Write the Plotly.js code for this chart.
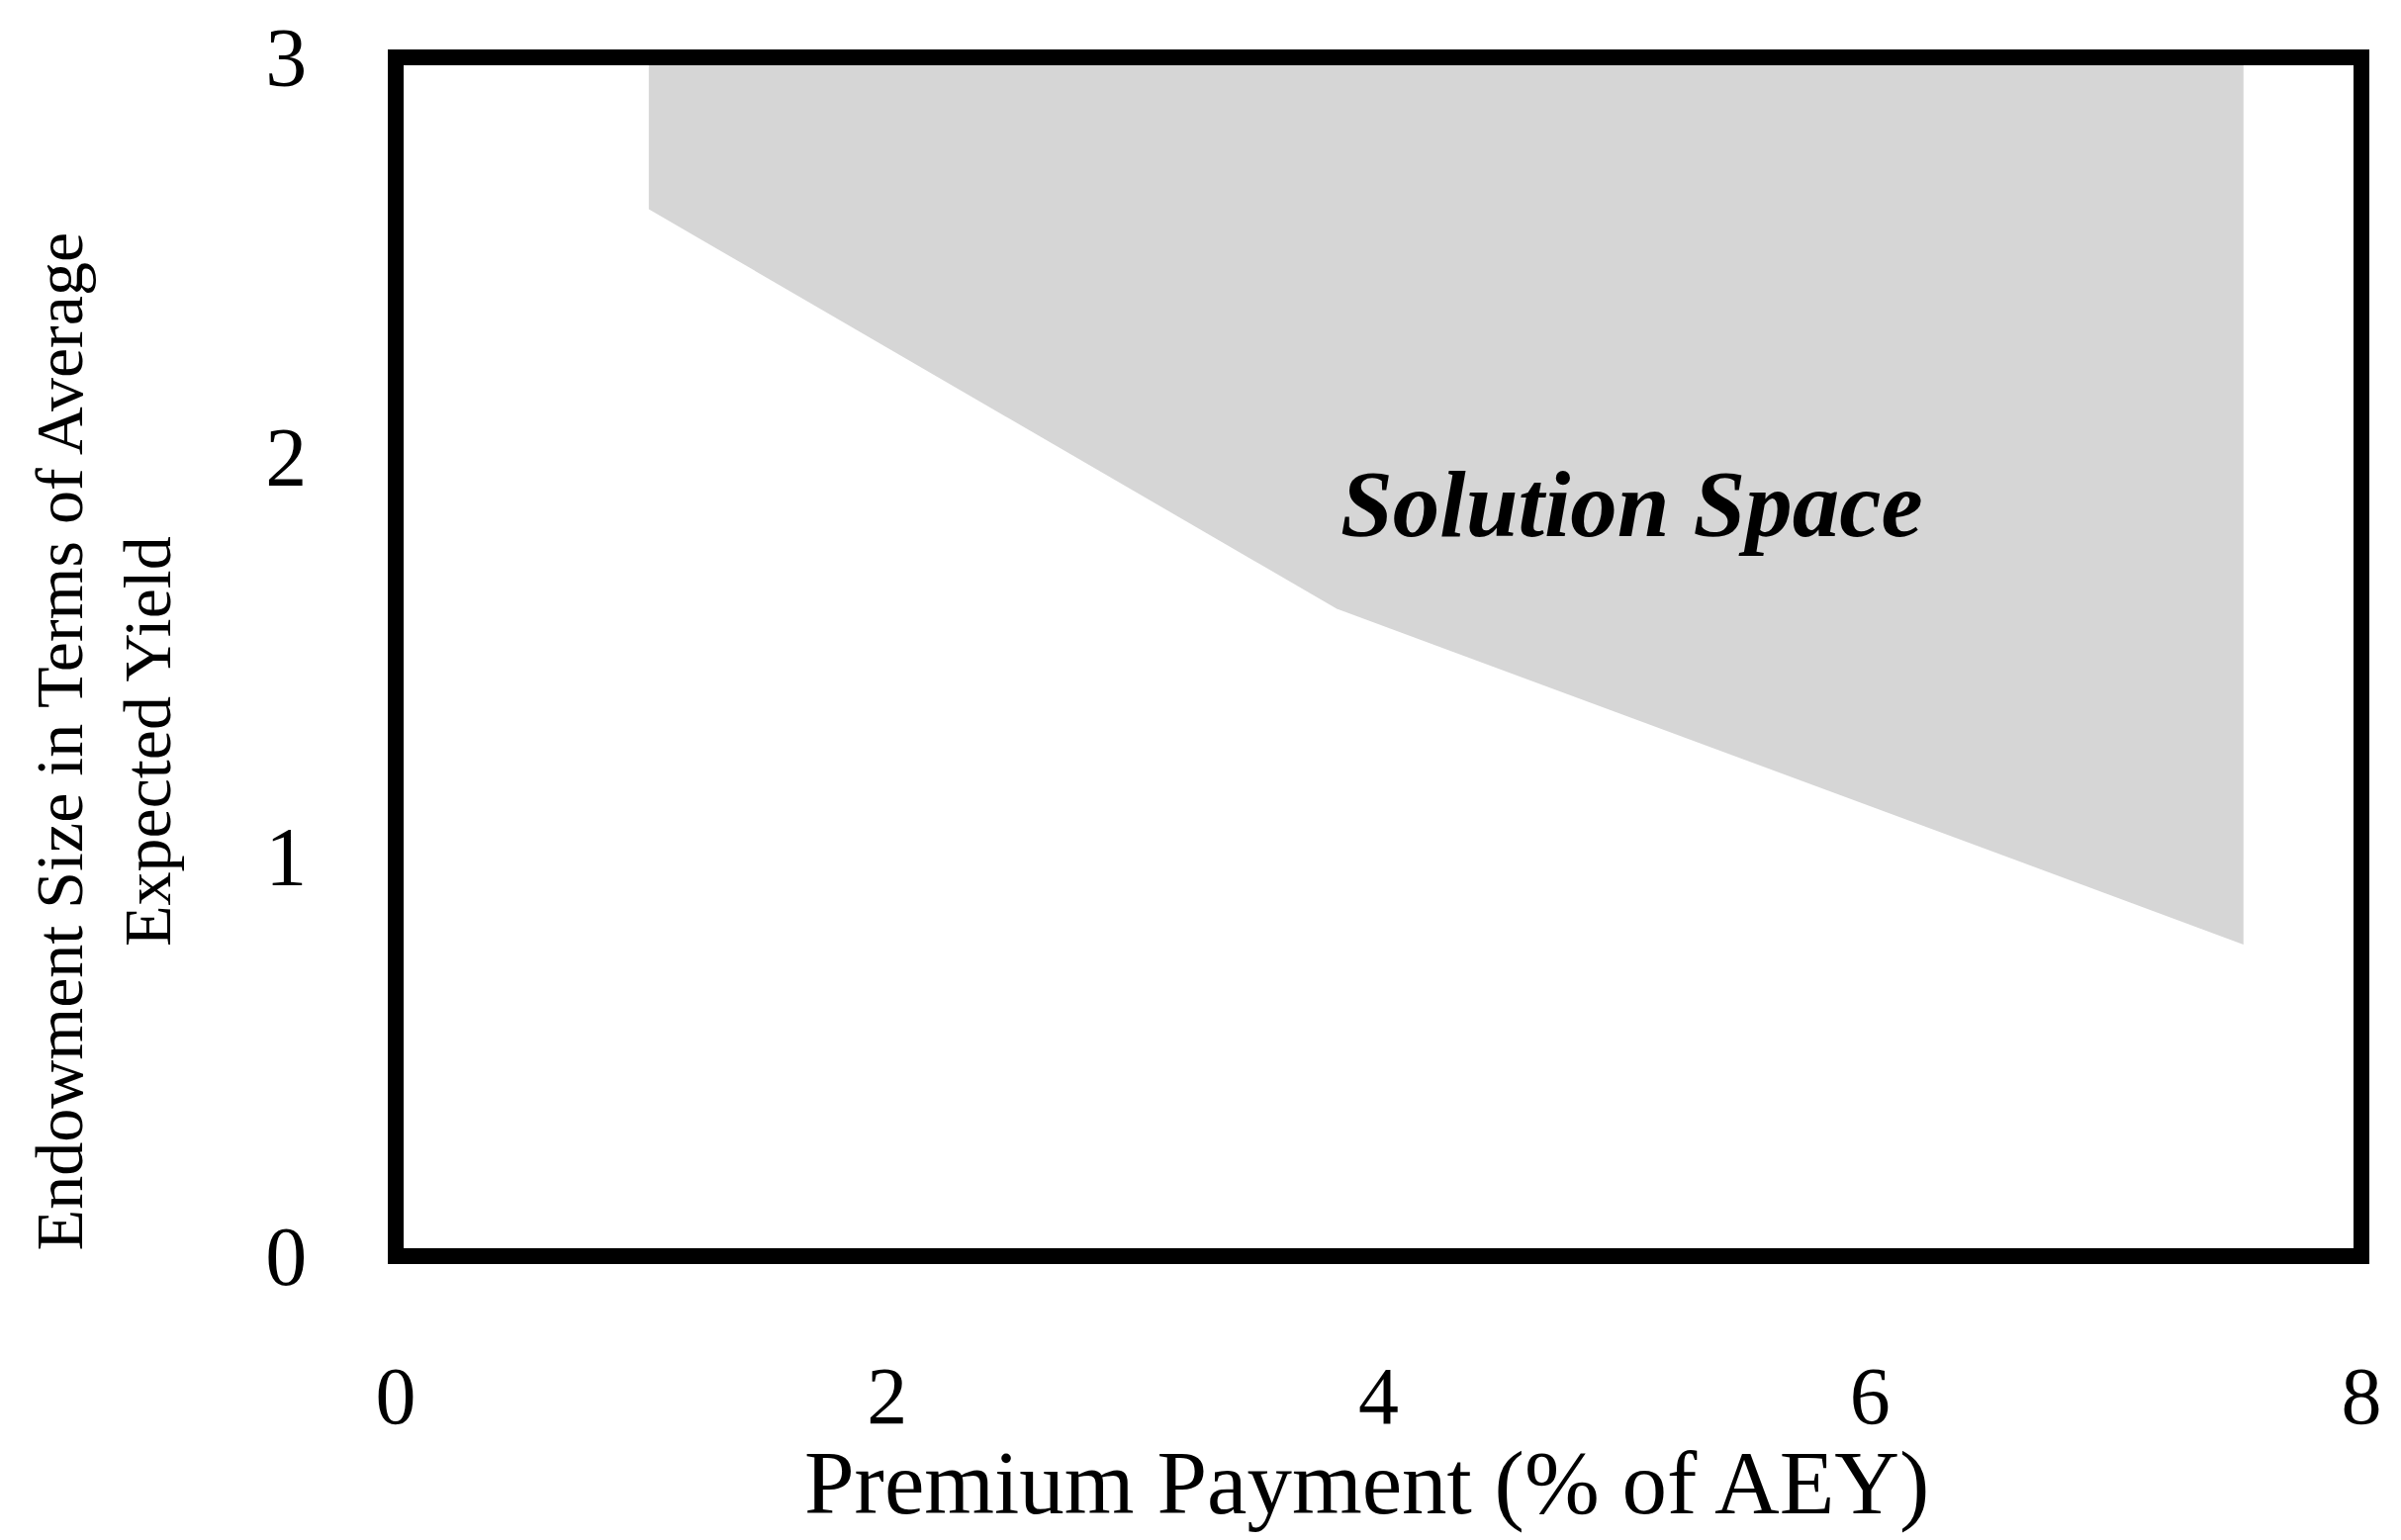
<!DOCTYPE html>
<html>
<head>
<meta charset="utf-8">
<script src="https://cdn.plot.ly/plotly-3.0.1.min.js"></script>
<style>html,body{margin:0;padding:0;background:#fff;}#chart{width:2427px;height:1557px;}</style>
</head>
<body>
<div id="chart"></div>
<script>
// Boundary of the solution space (premium % of AEY vs endowment size)
const boundaryX = [1.03, 1.03, 3.83, 7.52, 7.52];
const boundaryY = [3.0, 2.62, 1.62, 0.78, 3.0];
const xTicks = [0, 2, 4, 6, 8];
const yTicks = [0, 1, 2, 3];
const xTitle = "Premium Payment (% of AEY)";
const yTitleLines = ["Endowment Size in Terms of Average", "Expected Yield"];
const regionLabel = "Solution Space";

const serif = "Liberation Serif, DejaVu Serif, serif";

const trace = {
  x: boundaryX.concat([boundaryX[0]]),
  y: boundaryY.concat([boundaryY[0]]),
  type: "scatter",
  mode: "lines",
  fill: "toself",
  fillcolor: "#d6d6d6",
  line: {width: 0, color: "#d6d6d6"},
  hoverinfo: "skip",
  showlegend: false
};

const layout = {
  width: 2427,
  height: 1557,
  margin: {l: 400, r: 40, t: 58, b: 287, pad: 0},
  paper_bgcolor: "#ffffff",
  plot_bgcolor: "#ffffff",
  showlegend: false,
  xaxis: {
    range: [0, 8],
    tickvals: xTicks,
    ticktext: xTicks.map(String),
    showgrid: false,
    zeroline: false,
    showline: false,
    ticks: "outside",
    ticklen: 0,
    ticklabelstandoff: 70,
    tickfont: {family: serif, size: 82, color: "#000"},
    fixedrange: true
  },
  yaxis: {
    range: [0, 3],
    tickvals: yTicks,
    ticktext: yTicks.map(String),
    showgrid: false,
    zeroline: false,
    showline: false,
    ticks: "outside",
    ticklen: 0,
    ticklabelstandoff: 72,
    tickfont: {family: serif, size: 84, color: "#000"},
    fixedrange: true
  },
  shapes: [{
    type: "rect", xref: "paper", yref: "paper",
    x0: 0, x1: 1, y0: 0, y1: 1,
    line: {color: "#000", width: 16},
    fillcolor: "rgba(0,0,0,0)",
    layer: "above"
  }],
  annotations: [
    {
      text: "<b><i>" + regionLabel + "</i></b>",
      x: 5.03, y: 1.88, xref: "x", yref: "y",
      showarrow: false,
      xanchor: "center", yanchor: "middle",
      font: {family: serif, size: 95, color: "#000"}
    },
    {
      text: xTitle,
      x: 0.494, y: -0.189, xref: "paper", yref: "paper",
      showarrow: false,
      xanchor: "center", yanchor: "middle",
      font: {family: serif, size: 91, color: "#000"}
    },
    {
      text: yTitleLines.join("<br>"),
      x: -0.1485, y: 0.4295, xref: "paper", yref: "paper",
      showarrow: false,
      textangle: -90,
      xanchor: "center", yanchor: "middle",
      font: {family: serif, size: 68, color: "#000"}
    }
  ]
};

Plotly.newPlot("chart", [trace], layout, {displayModeBar: false, staticPlot: true});
</script>
</body>
</html>
